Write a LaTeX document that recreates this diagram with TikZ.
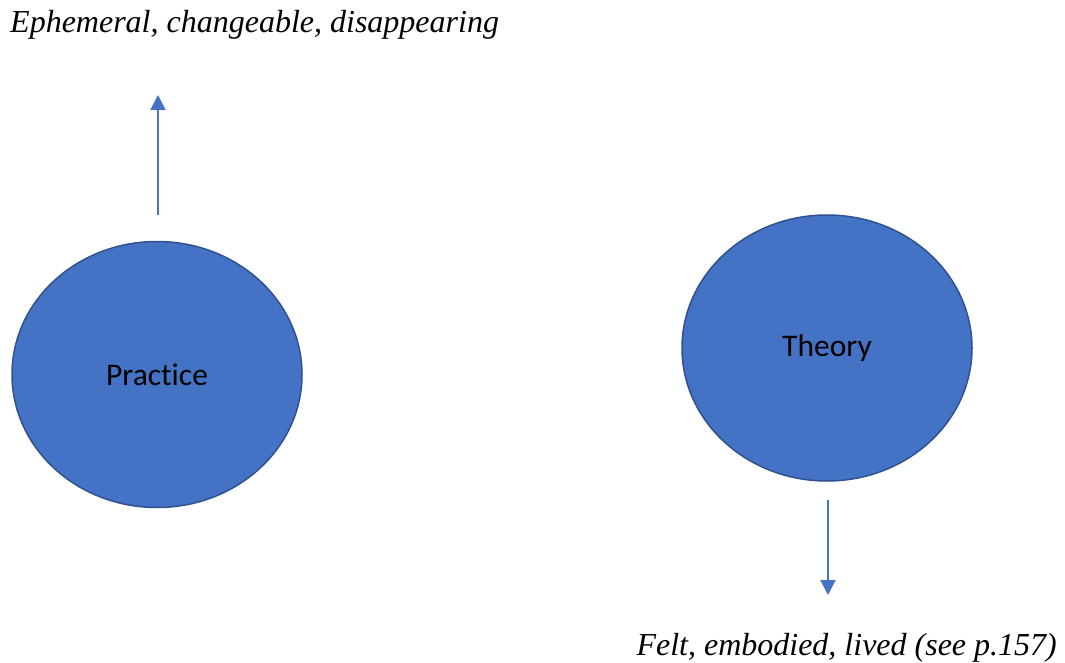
\documentclass[tikz,border=0pt]{standalone}
\usepackage{fontspec}
\setmainfont{Liberation Serif}
\newfontfamily\calibri[Ligatures={NoCommon,NoDiscretionary}]{Carlito}
\usepackage{tikz}
\usetikzlibrary{arrows.meta,shapes.geometric,positioning}
\definecolor{accentblue}{HTML}{4472C4}
\definecolor{edgeblue}{HTML}{2F528F}

\begin{document}
\begin{tikzpicture}[x=1pt,y=-1pt,
  blob/.style={ellipse,draw=edgeblue,line width=1.5pt,fill=accentblue,inner sep=0pt,minimum width=290pt,minimum height=266pt,font=\calibri\fontsize{31.5}{36}\selectfont},
  pointer/.style={accentblue,line width=2pt,-{Triangle[width=15pt,length=15pt]}},
  remark/.style={font=\itshape\fontsize{32}{38}\selectfont,inner sep=0pt}]
\useasboundingbox (0,0) rectangle (1065,663);
\node[blob] (practice) at (157,374.5) {Practice};
\node[blob] (theory) at (827,348) {Theory};
\coordinate (P1) at (158,215);
\coordinate (P2) at (158,95);
\coordinate (T1) at (828,500);
\coordinate (T2) at (828,595);
\draw[pointer] (P1) -- (P2);
\draw[pointer] (T1) -- (T2);
\node[remark,anchor=base west] (ephemeral) at (10,33) {Ephemeral, changeable, disappearing};
\node[remark,anchor=base east] (felt) at (1057,655) {Felt, embodied, lived (see p.157)};
\end{tikzpicture}
\end{document}
